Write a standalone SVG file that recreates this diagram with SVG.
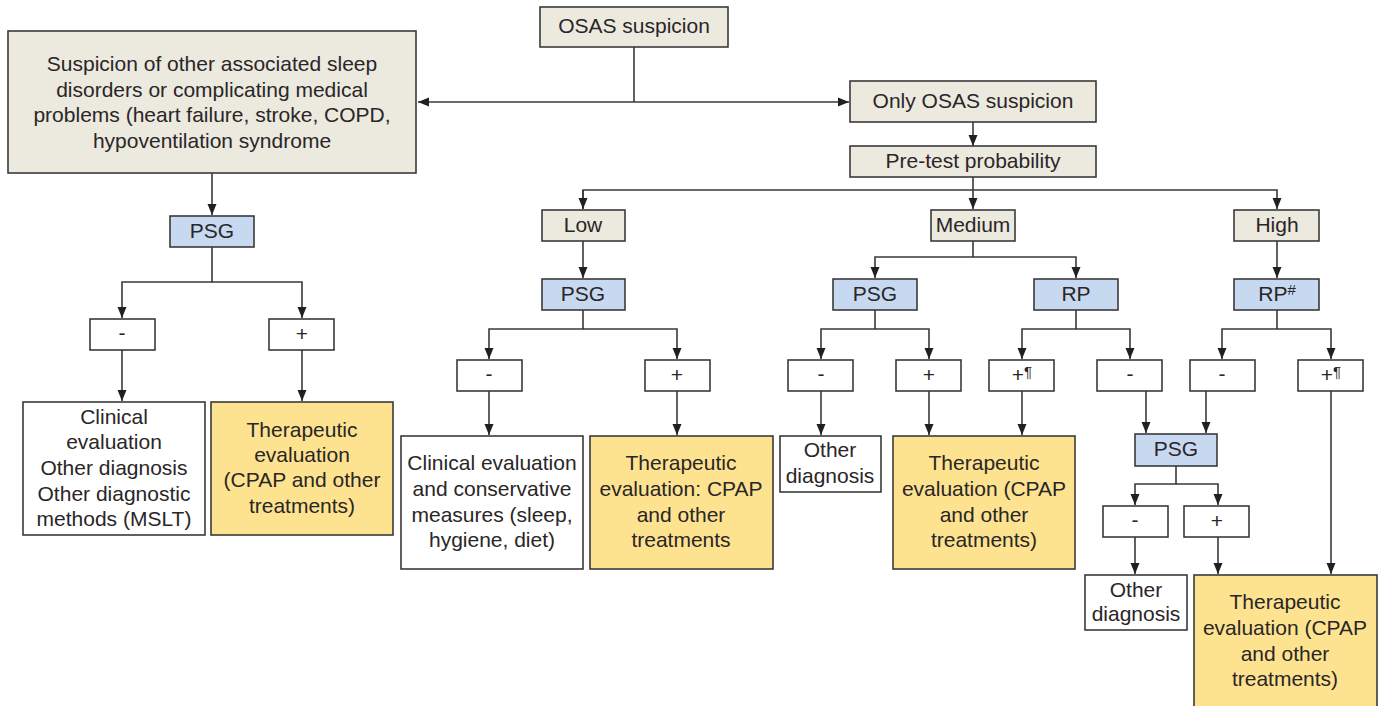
<svg xmlns="http://www.w3.org/2000/svg" width="1381" height="706" viewBox="0 0 1381 706">
<style>
rect{stroke:#3a3a3a;stroke-width:1.6}
.b{fill:#ece9df}
.p{fill:#c7d9f0}
.y{fill:#fde38f}
.w{fill:#ffffff}
text{font-family:"Liberation Sans",Arial,sans-serif;font-size:21px;fill:#2a2627;text-anchor:middle}
.s{font-size:15px}
#connectors path{fill:none;stroke:#3a3a3a;stroke-width:1.6}
</style>
<defs>
<marker id="ah" markerUnits="userSpaceOnUse" markerWidth="12" markerHeight="12" viewBox="0 0 12 12" refX="11" refY="6" orient="auto">
<path d="M0,1.5 L11,6 L0,10.5 Z" fill="#231f20"/>
</marker>
</defs>
<g id="connectors">
<path d="M634,47 V102"/>
<path d="M634,102 H418" marker-end="url(#ah)"/>
<path d="M634,102 H849" marker-end="url(#ah)"/>
<path d="M973,122 V146" marker-end="url(#ah)"/>
<path d="M973,177 V209" marker-end="url(#ah)"/>
<path d="M583,209 V190 H1277 V209" marker-end="url(#ah)"/>
<path d="M583,190 V209" marker-end="url(#ah)"/>
<path d="M212,173 V215" marker-end="url(#ah)"/>
<path d="M212,247 V282 H122 V318" marker-end="url(#ah)"/>
<path d="M212,282 H302 V318" marker-end="url(#ah)"/>
<path d="M122,350 V401" marker-end="url(#ah)"/>
<path d="M302,350 V401" marker-end="url(#ah)"/>
<path d="M583,241 V278" marker-end="url(#ah)"/>
<path d="M583,310 V329 H489 V359" marker-end="url(#ah)"/>
<path d="M583,329 H677 V359" marker-end="url(#ah)"/>
<path d="M489,391 V435" marker-end="url(#ah)"/>
<path d="M677,391 V435" marker-end="url(#ah)"/>
<path d="M973,241 V257 H875 V278" marker-end="url(#ah)"/>
<path d="M973,257 H1076 V278" marker-end="url(#ah)"/>
<path d="M875,310 V329 H821 V359" marker-end="url(#ah)"/>
<path d="M875,329 H929 V359" marker-end="url(#ah)"/>
<path d="M1076,310 V329 H1022 V359" marker-end="url(#ah)"/>
<path d="M1076,329 H1130 V359" marker-end="url(#ah)"/>
<path d="M821,391 V435" marker-end="url(#ah)"/>
<path d="M929,391 V435" marker-end="url(#ah)"/>
<path d="M1022,391 V435" marker-end="url(#ah)"/>
<path d="M1146,391 V433" marker-end="url(#ah)"/>
<path d="M1277,241 V278" marker-end="url(#ah)"/>
<path d="M1277,310 V329 H1222 V359" marker-end="url(#ah)"/>
<path d="M1277,329 H1331 V359" marker-end="url(#ah)"/>
<path d="M1206,391 V433" marker-end="url(#ah)"/>
<path d="M1331,391 V574" marker-end="url(#ah)"/>
<path d="M1176,466 V484 H1135 V505" marker-end="url(#ah)"/>
<path d="M1176,484 H1218 V505" marker-end="url(#ah)"/>
<path d="M1135,537 V574" marker-end="url(#ah)"/>
<path d="M1218,537 V574" marker-end="url(#ah)"/>
</g>
<g id="osas"><rect class="b" x="540" y="7" width="188" height="40"/><text x="634" y="33">OSAS suspicion</text></g>
<g id="other-disorders"><rect class="b" x="8" y="31" width="408" height="142"/>
<text x="212" y="71">Suspicion of other associated sleep</text>
<text x="212" y="96.5">disorders or complicating medical</text>
<text x="212" y="122">problems (heart failure, stroke, COPD,</text>
<text x="212" y="147.5">hypoventilation syndrome</text></g>
<g id="only-osas"><rect class="b" x="850" y="81" width="246" height="41"/><text x="973" y="108">Only OSAS suspicion</text></g>
<g id="pretest"><rect class="b" x="850" y="146" width="246" height="31"/><text x="973" y="168">Pre-test probability</text></g>
<g id="psg-left"><rect class="p" x="170" y="216" width="84" height="31"/><text x="212" y="238">PSG</text></g>
<g id="neg-left"><rect class="w" x="90" y="319" width="65" height="31"/><text x="122" y="340">-</text></g>
<g id="pos-left"><rect class="w" x="269" y="319" width="65" height="31"/><text x="302" y="341">+</text></g>
<g id="clinical-left"><rect class="w" x="23" y="402" width="182" height="133"/>
<text x="114" y="424">Clinical</text>
<text x="114" y="449">evaluation</text>
<text x="114" y="475">Other diagnosis</text>
<text x="114" y="501">Other diagnostic</text>
<text x="114" y="526">methods (MSLT)</text></g>
<g id="therapeutic-left"><rect class="y" x="211" y="402" width="182" height="133"/>
<text x="302" y="437">Therapeutic</text>
<text x="302" y="462">evaluation</text>
<text x="302" y="487">(CPAP and other</text>
<text x="302" y="513">treatments)</text></g>
<g id="low"><rect class="b" x="542" y="210" width="83" height="31"/><text x="583" y="232">Low</text></g>
<g id="medium"><rect class="b" x="931" y="210" width="84" height="31"/><text x="973" y="232">Medium</text></g>
<g id="high"><rect class="b" x="1234" y="210" width="85" height="31"/><text x="1277" y="232">High</text></g>
<g id="psg-low"><rect class="p" x="542" y="279" width="83" height="31"/><text x="583" y="301">PSG</text></g>
<g id="neg-low"><rect class="w" x="457" y="360" width="65" height="31"/><text x="489" y="381">-</text></g>
<g id="pos-low"><rect class="w" x="645" y="360" width="65" height="31"/><text x="677" y="382">+</text></g>
<g id="clinical-low"><rect class="w" x="401" y="436" width="182" height="133"/>
<text x="492" y="470">Clinical evaluation</text>
<text x="492" y="496">and conservative</text>
<text x="492" y="522">measures (sleep,</text>
<text x="492" y="547">hygiene, diet)</text></g>
<g id="therapeutic-low"><rect class="y" x="590" y="436" width="183" height="133"/>
<text x="681" y="470">Therapeutic</text>
<text x="681" y="496">evaluation: CPAP</text>
<text x="681" y="522">and other</text>
<text x="681" y="547">treatments</text></g>
<g id="psg-medium"><rect class="p" x="833" y="279" width="84" height="31"/><text x="875" y="301">PSG</text></g>
<g id="rp-medium"><rect class="p" x="1034" y="279" width="84" height="31"/><text x="1076" y="301">RP</text></g>
<g id="neg-medium-psg"><rect class="w" x="788" y="360" width="65" height="31"/><text x="821" y="381">-</text></g>
<g id="pos-medium-psg"><rect class="w" x="896" y="360" width="65" height="31"/><text x="929" y="382">+</text></g>
<g id="pos-medium-rp"><rect class="w" x="989" y="360" width="65" height="31"/><text x="1022" y="382">+<tspan class="s" dy="-5">¶</tspan></text></g>
<g id="neg-medium-rp"><rect class="w" x="1097" y="360" width="65" height="31"/><text x="1130" y="381">-</text></g>
<g id="other-medium"><rect class="w" x="780" y="436" width="101" height="56"/>
<text x="830" y="457">Other</text>
<text x="830" y="483">diagnosis</text></g>
<g id="therapeutic-medium"><rect class="y" x="893" y="436" width="182" height="133"/>
<text x="984" y="470">Therapeutic</text>
<text x="984" y="496">evaluation (CPAP</text>
<text x="984" y="522">and other</text>
<text x="984" y="547">treatments)</text></g>
<g id="rp-high"><rect class="p" x="1234" y="279" width="85" height="31"/><text x="1277" y="301">RP<tspan class="s" dy="-6">#</tspan></text></g>
<g id="neg-high"><rect class="w" x="1190" y="360" width="65" height="31"/><text x="1222" y="381">-</text></g>
<g id="pos-high"><rect class="w" x="1298" y="360" width="65" height="31"/><text x="1331" y="382">+<tspan class="s" dy="-5">¶</tspan></text></g>
<g id="psg-bottom"><rect class="p" x="1135" y="434" width="82" height="32"/><text x="1176" y="456">PSG</text></g>
<g id="neg-bottom"><rect class="w" x="1103" y="506" width="65" height="31"/><text x="1135" y="527">-</text></g>
<g id="pos-bottom"><rect class="w" x="1184" y="506" width="65" height="31"/><text x="1217" y="528">+</text></g>
<g id="other-bottom"><rect class="w" x="1085" y="575" width="102" height="55"/>
<text x="1136" y="597">Other</text>
<text x="1136" y="621">diagnosis</text></g>
<g id="therapeutic-bottom"><rect class="y" x="1194" y="575" width="183" height="132"/>
<text x="1285" y="609">Therapeutic</text>
<text x="1285" y="635">evaluation (CPAP</text>
<text x="1285" y="661">and other</text>
<text x="1285" y="686">treatments)</text></g>
</svg>
